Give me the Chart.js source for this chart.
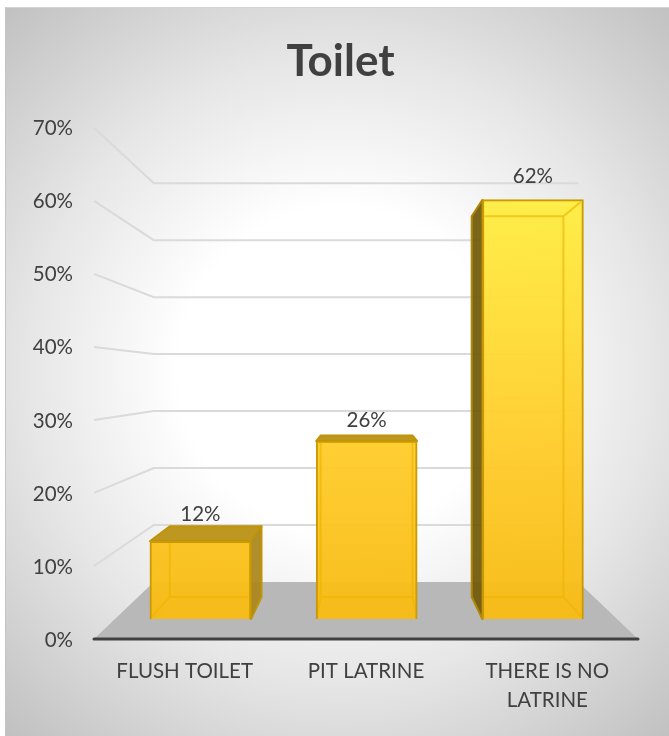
<!DOCTYPE html>
<html>
<head>
<meta charset="utf-8">
<style>html,body{margin:0;padding:0;background:#fff}#w{width:669px;height:736px}canvas{display:block}</style>
<script src="https://cdn.jsdelivr.net/npm/chart.js@4"></script>
</head>
<body>
<div id="w"><canvas id="c" width="669" height="736"></canvas></div>
<script>
const categories = ['FLUSH TOILET', 'PIT LATRINE', ['THERE IS NO', 'LATRINE']];
const values = [11.5, 26.3, 62];
const yMax = 70;
const yStep = 10;

const FONT = 'Lato, Carlito, "Open Sans", sans-serif';
const TEXT = '#404040';
const BAR_DEPTH = 0.908, WALL_DEPTH = 0.78;

function vanish(chart) {
  return { x: (chart.chartArea.left + chart.chartArea.right) / 2, y: chart.scales.y.getPixelForValue(35.5) };
}
function proj(v, k, x, y) { return [v.x + k * (x - v.x), v.y + k * (y - v.y)]; }
function poly(ctx, pts, fill, stroke, lw) {
  ctx.beginPath();
  pts.forEach((p, i) => i ? ctx.lineTo(p[0], p[1]) : ctx.moveTo(p[0], p[1]));
  ctx.closePath();
  if (fill) { ctx.fillStyle = fill; ctx.fill(); }
  if (stroke) { ctx.strokeStyle = stroke; ctx.lineWidth = lw || 1; ctx.lineJoin = 'round'; ctx.stroke(); }
}

const stage = {
  id: 'stage',
  beforeDraw(chart) {
    const ctx = chart.ctx, W = chart.width, H = chart.height;
    const x0 = 5, y0 = 7;
    ctx.save();
    ctx.fillStyle = '#ffffff';
    ctx.fillRect(0, 0, W, H);
    const g = ctx.createRadialGradient(340, 370, 60, 340, 370, 520);
    g.addColorStop(0, '#ffffff');
    g.addColorStop(0.22, '#ffffff');
    g.addColorStop(0.55, '#e6e6e6');
    g.addColorStop(1, '#bbbbbb');
    ctx.fillStyle = g;
    ctx.fillRect(x0, y0, W - x0, H - y0);
    ctx.fillStyle = '#d4d4d4';
    ctx.fillRect(x0, y0, W - x0, 1);
    ctx.fillStyle = '#c4c4c4';
    ctx.fillRect(x0, y0, 1, H - y0);
    ctx.restore();
  },
  beforeDatasetsDraw(chart) {
    const ctx = chart.ctx, a = chart.chartArea, ys = chart.scales.y, v = vanish(chart);
    ctx.save();
    // walls and floor
    const y0 = ys.getPixelForValue(0);
    const bl = proj(v, WALL_DEPTH, a.left, y0), br = proj(v, WALL_DEPTH, a.right, y0);
    poly(ctx, [[a.left, y0], [a.right, y0], br, bl], '#b8b8b8');
    ctx.strokeStyle = '#dadada';
    ctx.lineWidth = 2;
    ys.ticks.forEach(t => {
      if (t.value === 0) return;
      const y = ys.getPixelForValue(t.value);
      const l = proj(v, WALL_DEPTH, a.left, y), r = proj(v, WALL_DEPTH, a.right, y);
      ctx.beginPath();
      ctx.moveTo(a.left, y); ctx.lineTo(l[0], l[1]); ctx.lineTo(r[0], r[1]);
      ctx.stroke();
    });
    ctx.beginPath();
    ctx.lineCap = 'round';
    ctx.strokeStyle = TEXT;
    ctx.lineWidth = 3;
    ctx.moveTo(a.left, y0); ctx.lineTo(a.right, y0);
    ctx.stroke();
    // outer faces of the boxes
    chart.getDatasetMeta(0).data.forEach(b => {
      const L = b.x - b.width / 2, R = b.x + b.width / 2, T = b.y, B = b.base;
      const tl = proj(v, BAR_DEPTH, L, T), tr = proj(v, BAR_DEPTH, R, T);
      const bl2 = proj(v, BAR_DEPTH, L, B), br2 = proj(v, BAR_DEPTH, R, B);
      const edge = '#c09308';
      if (tl[1] < T) poly(ctx, [[L, T], [R, T], tr, tl], 'rgba(186,145,20,0.95)', edge, 2);
      if (tr[0] > R) poly(ctx, [[R, T], tr, br2, [R, B]], 'rgba(168,132,25,0.92)', edge, 2);
      if (tl[0] < L) poly(ctx, [[L, T], tl, bl2, [L, B]], 'rgba(112,88,8,0.92)', '#b08806', 2);
    });
    ctx.restore();
  },
  afterDatasetsDraw(chart) {
    const ctx = chart.ctx, v = vanish(chart), yb = chart.scales.y2;
    chart.getDatasetMeta(0).data.forEach((b, i) => {
      const L = b.x - b.width / 2, R = b.x + b.width / 2, T = b.y, B = b.base;
      const tl = proj(v, BAR_DEPTH, L, T), tr = proj(v, BAR_DEPTH, R, T);
      const bl2 = proj(v, BAR_DEPTH, L, B), br2 = proj(v, BAR_DEPTH, R, B);
      // back edges seen through the translucent front only
      ctx.save();
      ctx.beginPath();
      ctx.rect(L + 2, T + 2, R - L - 4, B - T - 4);
      ctx.clip();
      ctx.strokeStyle = 'rgba(238,180,0,0.65)';
      ctx.lineWidth = 2;
      ctx.beginPath();
      ctx.moveTo(tl[0], tl[1]); ctx.lineTo(tr[0], tr[1]); ctx.lineTo(br2[0], br2[1]);
      ctx.lineTo(bl2[0], bl2[1]); ctx.closePath();
      ctx.moveTo(L, T); ctx.lineTo(tl[0], tl[1]);
      ctx.moveTo(R, T); ctx.lineTo(tr[0], tr[1]);
      ctx.moveTo(L, B); ctx.lineTo(bl2[0], bl2[1]);
      ctx.moveTo(R, B); ctx.lineTo(br2[0], br2[1]);
      ctx.stroke();
      ctx.restore();
      // value label
      const shown = Math.round(values[i]);
      ctx.save();
      ctx.fillStyle = TEXT;
      ctx.font = '20.5px ' + FONT;
      ctx.textAlign = 'center';
      ctx.textBaseline = 'middle';
      ctx.fillText(shown + '%', b.x, yb.getPixelForValue(shown) - 23);
      ctx.restore();
    });
  }
};

function barFill(c) {
  const chart = c.chart;
  if (!chart.chartArea) return '#ffd030';
  const s = chart.scales.y2;
  const g = chart.ctx.createLinearGradient(0, s.getPixelForValue(62), 0, s.getPixelForValue(0));
  g.addColorStop(0, 'rgba(255,238,66,0.96)');
  g.addColorStop(0.24, 'rgba(255,224,58,0.96)');
  g.addColorStop(0.575, 'rgba(255,205,44,0.96)');
  g.addColorStop(1, 'rgba(248,187,20,0.96)');
  return g;
}

new Chart(document.getElementById('c'), {
  type: 'bar',
  data: {
    labels: categories,
    datasets: [{
      data: values.map((v, i) => ({ x: i, y: v })),
      xAxisID: 'x2',
      yAxisID: 'y2',
      backgroundColor: barFill,
      borderColor: '#c99a05',
      borderWidth: 2,
      barThickness: 101
    }]
  },
  plugins: [stage],
  options: {
    responsive: false,
    animation: false,
    layout: { padding: { left: 12, top: 0, right: 0, bottom: 0 } },
    plugins: {
      legend: { display: false },
      tooltip: { enabled: false },
      title: {
        display: true,
        text: 'Toilet',
        color: TEXT,
        font: { family: FONT, size: 44, weight: 'bold', lineHeight: 1.2 },
        padding: { top: 35, bottom: 40 }
      }
    },
    scales: {
      x: {
        type: 'category',
        position: 'bottom',
        grid: { display: false, drawTicks: false },
        border: { display: false },
        ticks: { color: TEXT, font: { family: FONT, size: 20.5, lineHeight: 1.42 }, padding: 18, maxRotation: 0, autoSkip: false },
        afterFit(s) { s.height = 97; }
      },
      x2: { type: 'linear', display: false, offset: false, min: -0.64, max: 2.632 },
      y: {
        position: 'left',
        min: 0, max: yMax,
        grid: { display: false, drawTicks: false },
        border: { display: false },
        ticks: { stepSize: yStep, color: TEXT, font: { family: FONT, size: 20.5 }, padding: 21, labelOffset: 1, callback: v => v + '%' },
        afterFit(s) { s.width = 82; }
      },
      y2: {
        position: 'right',
        min: -2.96, max: 72.63,
        grid: { display: false, drawTicks: false },
        border: { display: false },
        ticks: { display: false },
        afterFit(s) { s.width = 31; }
      }
    }
  }
});
</script>
</body>
</html>
